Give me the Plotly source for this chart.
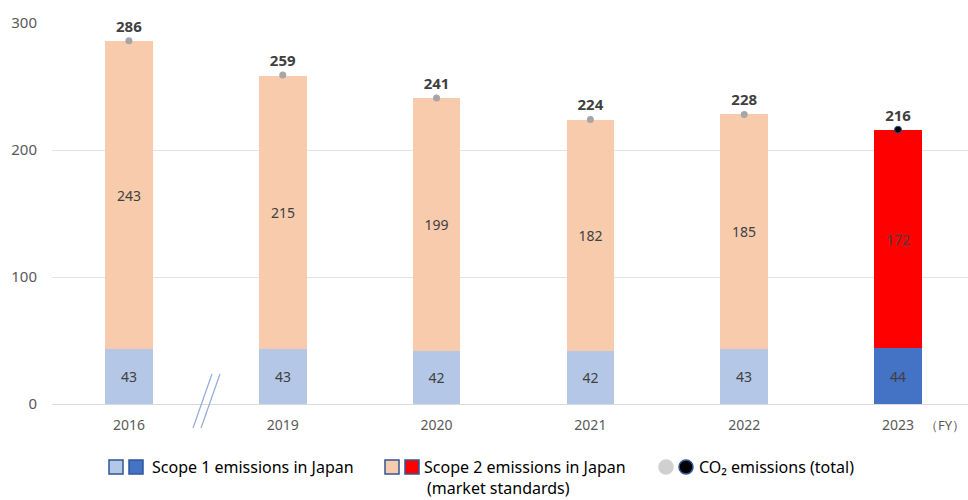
import plotly.graph_objects as go

years = ["2016", "2019", "2020", "2021", "2022", "2023"]
scope1 = [43, 43, 42, 42, 43, 44]
scope2 = [243, 215, 199, 182, 185, 172]
totals = [286, 259, 241, 224, 228, 216]

s1_colors = ["#B4C7E7"] * 5 + ["#4472C4"]
s2_colors = ["#F8CBAD"] * 5 + ["#FF0000"]
tot_colors = ["#A6A6A6"] * 5 + ["#000000"]

FONT = "Noto Sans"
L, T, W, H = 52, 23, 916, 381  # plot area in px


def px(x):
    return (x - L) / W


def py(y):
    return (T + H - y) / H


fig = go.Figure()
fig.add_trace(go.Bar(
    x=years, y=scope1, width=0.31,
    marker=dict(color=s1_colors, line=dict(width=0)),
    text=[str(v) for v in scope1], textposition="inside",
    insidetextanchor="middle", textangle=0, constraintext="none",
    textfont=dict(family=FONT, size=14, color="#404040"),
    showlegend=False, hoverinfo="skip"))
fig.add_trace(go.Bar(
    x=years, y=scope2, width=0.31,
    marker=dict(color=s2_colors, line=dict(width=0)),
    text=[str(v) for v in scope2], textposition="inside",
    insidetextanchor="middle", textangle=0, constraintext="none",
    textfont=dict(family=FONT, size=14, color="#404040"),
    showlegend=False, hoverinfo="skip"))
fig.add_trace(go.Scatter(
    x=years, y=totals, mode="markers+text",
    marker=dict(color=tot_colors, size=7,
                line=dict(width=[0] * 5 + [1], color="#2F5597")),
    text=["<b>%d</b>" % v for v in totals], textposition="top center",
    textfont=dict(family=FONT, size=15, color="#404040"),
    cliponaxis=False, showlegend=False, hoverinfo="skip"))

shapes = []
annotations = []
# axis break marker
for dx in (0, 8):
    shapes.append(dict(type="line", xref="paper", yref="paper",
                       x0=px(193 + dx), y0=py(428), x1=px(212 + dx), y1=py(374),
                       line=dict(color="#8FAADC", width=1.2)))

# legend
def square(x, fill):
    shapes.append(dict(type="rect", xref="paper", yref="paper",
                       x0=px(x), x1=px(x + 14), y0=py(474), y1=py(460),
                       fillcolor=fill, line=dict(color="#2F5597", width=1.5)))


def circle(x, fill, border):
    shapes.append(dict(type="circle", xref="paper", yref="paper",
                       x0=px(x), x1=px(x + 14), y0=py(474), y1=py(460),
                       fillcolor=fill, line=dict(color=border, width=1.5)))


square(109, "#B4C7E7")
square(129, "#4472C4")
square(385, "#F8CBAD")
square(405, "#FF0000")
circle(659, "#D0D0D0", "#D0D0D0")
circle(679, "#000000", "#2F5597")


def label(x, y, text):
    annotations.append(dict(xref="paper", yref="paper", x=px(x), y=py(y),
                            xanchor="left", yanchor="middle", showarrow=False,
                            text=text, font=dict(family=FONT, size=16, color="#000000")))


label(150, 467, "Scope 1 emissions in Japan")
label(422, 467, "Scope 2 emissions in Japan")
label(425, 488, "(market standards)")
label(697, 467, "CO₂ emissions (total)")
annotations.append(dict(xref="paper", yref="paper", x=px(945), y=py(425),
                        xanchor="center", yanchor="middle", showarrow=False,
                        text="（FY）", font=dict(family=FONT, size=13, color="#595959")))

fig.update_layout(
    width=968, height=500,
    margin=dict(l=L, r=968 - L - W, t=T, b=500 - T - H, pad=0),
    barmode="stack", bargap=0,
    plot_bgcolor="white", paper_bgcolor="white",
    shapes=shapes, annotations=annotations,
    xaxis=dict(type="category", range=[-0.5, 5.455], showgrid=False,
               showline=True, linecolor="#D9D9D9", linewidth=1,
               ticks="", ticklabelstandoff=8,
               tickfont=dict(family=FONT, size=14, color="#595959")),
    yaxis=dict(range=[0, 300], tickvals=[0, 100, 200, 300],
               showgrid=True, gridcolor="#E3E3E3", gridwidth=1,
               zeroline=False, showline=False, ticks="",
               ticklabelstandoff=14,
               tickfont=dict(family=FONT, size=15, color="#595959")),
)

fig.write_html("out.html")
